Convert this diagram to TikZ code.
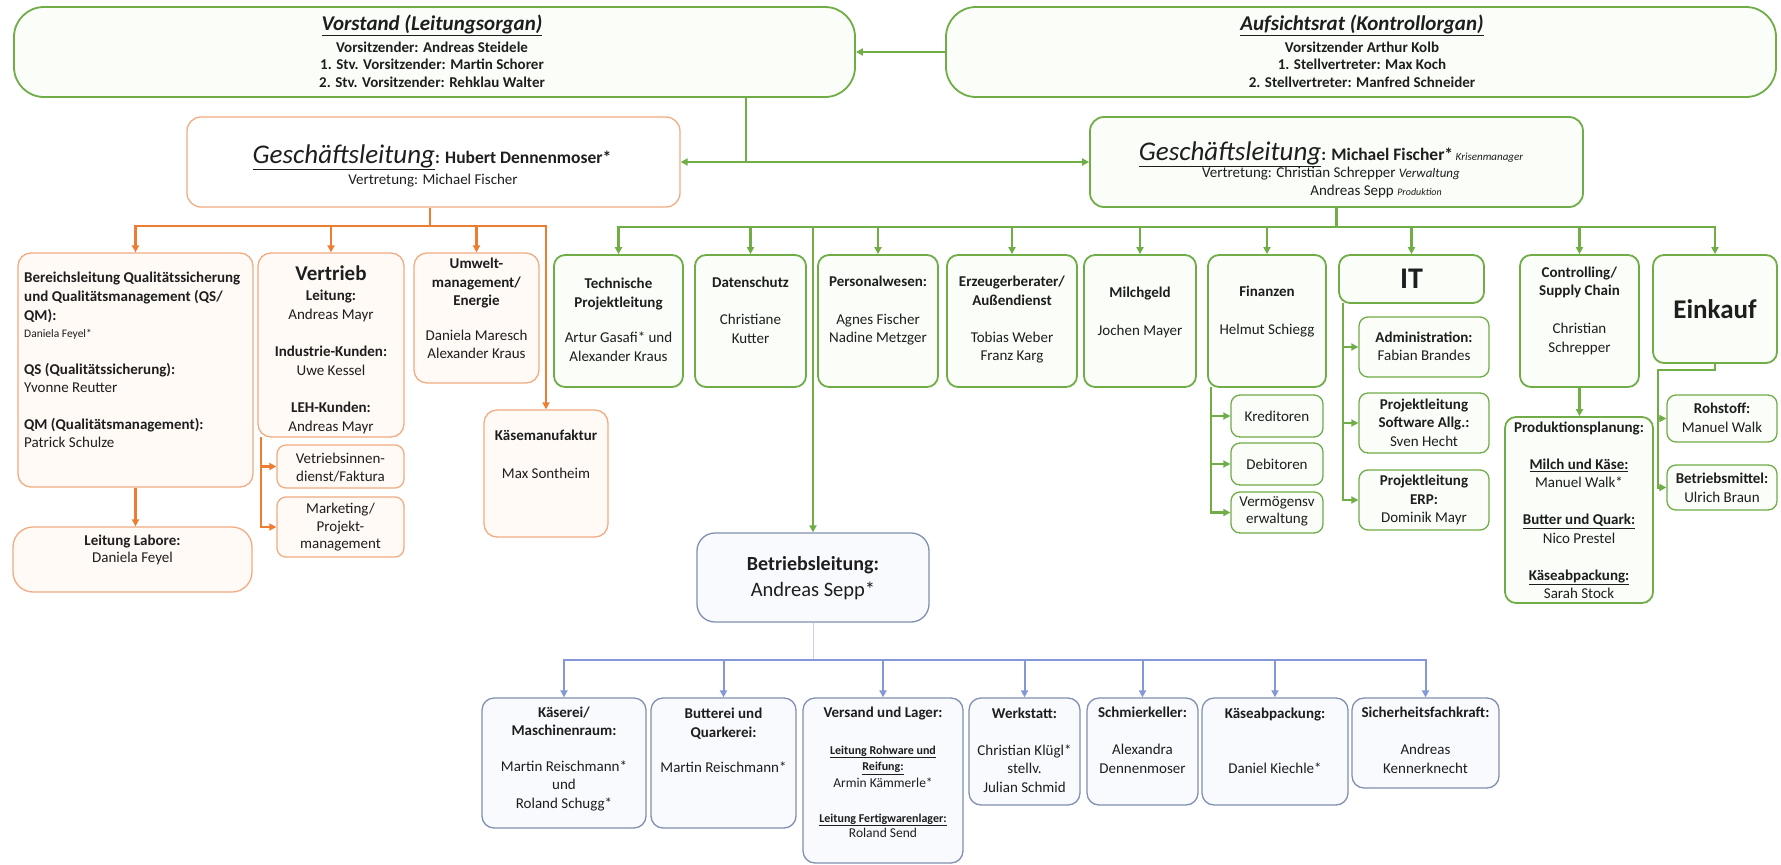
\documentclass[tikz,border=0pt]{standalone}
\usepackage{fontspec}
\setmainfont{Carlito}
\usetikzlibrary{arrows.meta}
\definecolor{gC}{HTML}{70AD47}
\definecolor{oC}{HTML}{ED7D31}
\definecolor{oB}{HTML}{F0AC82}
\definecolor{bC}{HTML}{8497D6}
\definecolor{bB}{HTML}{8190B0}
\definecolor{gF}{HTML}{FAFDF8}
\definecolor{oF}{HTML}{FFFAF6}
\definecolor{bF}{HTML}{F9FAFE}
\definecolor{tx}{HTML}{1E1E1E}
\newcommand\bx[6]{\node[#2, minimum width={#5-#3}, minimum height={#6-#4}] (#1) at ({(#3+#5)/2},{(#4+#6)/2}) {};}
\begin{document}
\begin{tikzpicture}[x=1pt,y=-1pt,
 gbox/.style={draw=gC, line width=1.8pt, rounded corners=11pt, fill=gF, inner sep=0pt},
 gsub/.style={draw=gC, line width=1.3pt, rounded corners=9pt, fill=gF, inner sep=0pt},
 obox/.style={draw=oB, line width=1.3pt, rounded corners=13pt, fill=oF, inner sep=0pt},
 bbox/.style={draw=bB, line width=1.3pt, rounded corners=12pt, fill=bF, inner sep=0pt},
 txt/.style={inner sep=0pt, align=center, text=tx, font=\fontsize{15}{18.5}\selectfont},
 gline/.style={draw=gC, line width=2.4pt},
 garr/.style={gline, -{Triangle[length=7pt,width=7pt]}},
 oline/.style={draw=oC, line width=2.2pt},
 oarr/.style={oline, -{Triangle[length=7pt,width=7pt]}},
 bline/.style={draw=bC, line width=2pt},
 barr/.style={bline, -{Triangle[length=7pt,width=7pt]}},
]
\useasboundingbox (0,0) rectangle (1781,865);
\fill[white] (0,0) rectangle (1781,865);

% ---------- boxes ----------
\bx{vor}{gbox, rounded corners=30pt}{14}{7}{855}{97}
\bx{auf}{gbox, rounded corners=30pt}{946}{7}{1776}{97}
\bx{gll}{obox, fill=white, rounded corners=14pt}{187}{117}{680}{207}
\bx{glr}{gbox, rounded corners=14pt}{1090}{117}{1583}{207}

\bx{bl}{obox}{18}{253}{253}{487}
\bx{ver}{obox}{258}{253}{404}{437}
\bx{umw}{obox}{414}{253}{539}{383}
\bx{kma}{obox}{484}{410}{608}{537}
\bx{lab}{obox, rounded corners=20pt}{13}{527}{252}{592}
\bx{vid}{obox, rounded corners=9pt}{277}{445}{404}{488}
\bx{mkt}{obox, rounded corners=9pt}{277}{497}{404}{557}

\bx{tpl}{gbox}{554}{255}{683}{387}
\bx{dsz}{gbox}{695}{255}{806}{387}
\bx{pw}{gbox}{818}{255}{938}{387}
\bx{ezb}{gbox}{947}{255}{1077}{387}
\bx{mg}{gbox}{1084}{255}{1196}{387}
\bx{fin}{gbox}{1208}{255}{1326}{387}
\bx{it}{gbox}{1339}{255}{1484}{303}
\bx{ctl}{gbox}{1520}{255}{1639}{387}
\bx{ek}{gbox}{1653}{255}{1777}{363}
\bx{kre}{gsub}{1231}{395}{1323}{437}
\bx{deb}{gsub}{1231}{443}{1323}{485}
\bx{vmv}{gsub}{1231}{492}{1323}{533}
\bx{adm}{gsub}{1359}{317}{1489}{377}
\bx{pls}{gsub}{1359}{393}{1489}{453}
\bx{ple}{gsub}{1359}{470}{1489}{530}
\bx{pp}{gbox}{1505}{417}{1653}{603}
\bx{roh}{gsub}{1667}{395}{1777}{442}
\bx{bm}{gsub}{1667}{465}{1777}{510}

\bx{bel}{bbox, rounded corners=18pt}{697}{533}{929}{622}
\bx{kas}{bbox}{482}{698}{646}{828}
\bx{but}{bbox}{651}{698}{796}{828}
\bx{vsl}{bbox}{803}{698}{963}{863}
\bx{wst}{bbox}{969}{698}{1080}{805}
\bx{smk}{bbox}{1087}{698}{1198}{805}
\bx{kap}{bbox}{1202}{698}{1348}{805}
\bx{sfk}{bbox}{1352}{698}{1499}{788}

% ---------- connectors ----------
\draw[garr] (auf.west) -- (vor.east);
\coordinate (j1) at (746,162);
\draw[gline] (vor.south -| j1) -- (j1);
\draw[garr] (j1) -- (gll.east);
\draw[garr] (j1) -- (glr.west);

\coordinate (oj) at (430,226);
\draw[oline] (gll.south -| oj) -- (oj);
\draw[oarr] (oj) -| (bl.north);
\draw[oarr] (oj) -| (kma.north);
\draw[oarr] (ver.north |- oj) -- (ver.north);
\draw[oarr] (umw.north |- oj) -- (umw.north);
\draw[oarr] (bl.south) -- (bl.south |- lab.north);
\coordinate (vj) at (261,437);
\draw[oarr] (vj) |- (mkt.west);
\draw[oarr] (vj |- vid.west) -- (vid.west);

\coordinate (gj) at (1336,227);
\draw[gline] (glr.south) -- (glr.south |- gj);
\draw[garr] (gj) -| (tpl.north);
\draw[garr] (gj) -| (ek.north);
\draw[garr] (dsz.north |- gj) -- (dsz.north);
\draw[garr] (bel.north |- gj) -- (bel.north);
\draw[garr] (pw.north |- gj) -- (pw.north);
\draw[garr] (ezb.north |- gj) -- (ezb.north);
\draw[garr] (mg.north |- gj) -- (mg.north);
\draw[garr] (fin.north |- gj) -- (fin.north);
\draw[garr] (it.north |- gj) -- (it.north);
\draw[garr] (ctl.north |- gj) -- (ctl.north);

\coordinate (fj) at (1211,387);
\draw[garr] (fj) |- (vmv.west);
\draw[garr] (fj |- kre.west) -- (kre.west);
\draw[garr] (fj |- deb.west) -- (deb.west);
\coordinate (ij) at (1343,303);
\draw[garr] (ij) |- (ple.west);
\draw[garr] (ij |- adm.west) -- (adm.west);
\draw[garr] (ij |- pls.west) -- (pls.west);
\draw[garr] (ctl.south) -- (ctl.south |- pp.north);
\coordinate (ej) at (1658,370);
\draw[garr] (ek.south) |- (ej) |- (bm.west);
\draw[garr] (ej |- roh.west) -- (roh.west);

\coordinate (bj) at (813,660);
\draw[draw=bC!45, line width=1pt] (bel.south) -- (bj);
\draw[barr] (bj) -| (kas.north);
\draw[barr] (bj) -| (sfk.north);
\draw[barr] (but.north |- bj) -- (but.north);
\draw[barr] (vsl.north |- bj) -- (vsl.north);
\draw[barr] (wst.north |- bj) -- (wst.north);
\draw[barr] (smk.north |- bj) -- (smk.north);
\draw[barr] (kap.north |- bj) -- (kap.north);

% ---------- texts ----------
\node[txt, font=\fontsize{21}{24}\selectfont\bfseries\itshape] (t-vor) at (432,25) {\underline{Vorstand (Leitungsorgan)}};
\node[txt, font=\fontsize{15}{17.5}\selectfont\bfseries] (s-vor) at (432,64.5) {Vorsitzender: Andreas Steidele\\1. Stv. Vorsitzender: Martin Schorer\\2. Stv. Vorsitzender: Rehklau Walter};
\node[txt, font=\fontsize{21}{24}\selectfont\bfseries\itshape] (t-auf) at (1362,25) {\underline{Aufsichtsrat (Kontrollorgan)}};
\node[txt, font=\fontsize{15}{17.5}\selectfont\bfseries] (s-auf) at (1362,64.5) {Vorsitzender Arthur Kolb\\1. Stellvertreter: Max Koch\\2. Stellvertreter: Manfred Schneider};

\node[txt, anchor=base] (t-gll) at (432,163) {{\fontsize{27}{30}\selectfont\itshape\underline{Geschäftsleitung}}{\fontsize{17.5}{20}\selectfont\bfseries: Hubert Dennenmoser*}};
\node[txt] (s-gll) at (433,181) {Vertretung: Michael Fischer};
\node[txt, anchor=base] (t-glr) at (1331,160) {{\fontsize{27}{30}\selectfont\itshape\underline{Geschäftsleitung}}{\fontsize{17.5}{20}\selectfont\bfseries: Michael Fischer*}{\fontsize{11}{13}\selectfont\itshape\ Krisenmanager}};
\node[txt] (s-glr) at (1331,174) {Vertretung: Christian Schrepper {\fontsize{13}{15}\selectfont\itshape Verwaltung}};
\node[txt] (s2-glr) at (1376,191) {Andreas Sepp {\fontsize{10}{12}\selectfont\itshape Produktion}};

\node[txt, anchor=west, align=left, font=\fontsize{15}{19}\selectfont] (t-bl1) at (24,297) {\textbf{Bereichsleitung Qualitätssicherung}\\\textbf{und Qualitätsmanagement (QS/}\\\textbf{QM):}};
\node[txt, anchor=west, font=\fontsize{11.5}{13}\selectfont] (t-bl2) at (24,334) {Daniela Feyel*};
\node[txt, anchor=west, align=left] (t-bl3) at (24,378) {\textbf{QS (Qualitätssicherung):}\\Yvonne Reutter};
\node[txt, anchor=west, align=left] (t-bl4) at (24,433) {\textbf{QM (Qualitätsmanagement):}\\Patrick Schulze};
\node[txt, font=\fontsize{21}{24}\selectfont\bfseries] (t-ver1) at (331,273) {Vertrieb};
\node[txt] (t-ver2) at (331,362) {\textbf{Leitung:}\\Andreas Mayr\\[19pt]\textbf{Industrie-Kunden:}\\Uwe Kessel\\[19pt]\textbf{LEH-Kunden:}\\Andreas Mayr};
\node[txt] (t-umw) at (476.5,308.5) {\textbf{Umwelt-}\\\textbf{management/}\\\textbf{Energie}\\[16pt]Daniela Maresch\\Alexander Kraus};
\node[txt] (t-kma) at (546,454) {\textbf{Käsemanufaktur}\\[19.5pt]Max Sontheim};
\node[txt, font=\fontsize{15}{17}\selectfont] (t-lab) at (132.5,550) {\textbf{Leitung Labore:}\\Daniela Feyel};
\node[txt] (t-vid) at (340.5,467.5) {Vetriebsinnen-\\dienst/Faktura};
\node[txt, font=\fontsize{15}{17.5}\selectfont] (t-mkt) at (340.5,527.5) {Marketing/\\Projekt-\\management};

\node[txt] (t-tpl) at (618.5,320) {\textbf{Technische}\\\textbf{Projektleitung}\\[17pt]Artur Gasafi* und\\Alexander Kraus};
\node[txt] (t-dsz) at (750.5,310.5) {\textbf{Datenschutz}\\[18.5pt]Christiane\\Kutter};
\node[txt] (t-pw) at (878,311) {\textbf{Personalwesen:}\\[19pt]Agnes Fischer\\Nadine Metzger};
\node[txt] (t-ezb) at (1012,320) {\textbf{Erzeugerberater/}\\\textbf{Außendienst}\\[18.5pt]Tobias Weber\\Franz Karg};
\node[txt] (t-mg) at (1140,312) {\textbf{Milchgeld}\\[19.5pt]Jochen Mayer};
\node[txt] (t-fin) at (1267,312) {\textbf{Finanzen}\\[19.5pt]Helmut Schiegg};
\node[txt, font=\fontsize{30}{32}\selectfont\bfseries] (t-it) at (1411.5,279) {IT};
\node[txt] (t-ctl) at (1579.5,310.5) {\textbf{Controlling/}\\\textbf{Supply Chain}\\[19.5pt]Christian\\Schrepper};
\node[txt, font=\fontsize{27}{30}\selectfont\bfseries] (t-ek) at (1715,309) {Einkauf};
\node[txt] (t-kre) at (1277,416) {Kreditoren};
\node[txt] (t-deb) at (1277,464) {Debitoren};
\node[txt, font=\fontsize{15}{17}\selectfont] (t-vmv) at (1277,511.5) {Vermögensv\\erwaltung};
\node[txt, font=\fontsize{15}{17.5}\selectfont] (t-adm) at (1424,346.5) {\textbf{Administration:}\\Fabian Brandes};
\node[txt] (t-pls) at (1424,422.5) {\textbf{Projektleitung}\\\textbf{Software Allg.:}\\Sven Hecht};
\node[txt] (t-ple) at (1424,500) {\textbf{Projektleitung}\\\textbf{ERP:}\\Dominik Mayr};
\node[txt] (t-pp) at (1579,510.5) {\textbf{Produktionsplanung:}\\[18.5pt]\textbf{\underline{Milch und Käse:}}\\Manuel Walk*\\[18.5pt]\textbf{\underline{Butter und Quark:}}\\Nico Prestel\\[18.5pt]\textbf{\underline{Käseabpackung:}}\\Sarah Stock};
\node[txt, font=\fontsize{15}{19}\selectfont] (t-roh) at (1722,417.5) {\textbf{Rohstoff:}\\Manuel Walk};
\node[txt, font=\fontsize{15}{19}\selectfont] (t-bm) at (1722,487.5) {\textbf{Betriebsmittel:}\\Ulrich Braun};

\node[txt, font=\fontsize{20}{23}\selectfont\bfseries] (t-bel1) at (813,565) {Betriebsleitung:};
\node[txt, font=\fontsize{20.5}{23}\selectfont] (t-bel2) at (813,591) {Andreas Sepp*};
\node[txt] (t-kas) at (564,759) {\textbf{Käserei/}\\\textbf{Maschinenraum:}\\[17pt]Martin Reischmann*\\und\\Roland Schugg*};
\node[txt] (t-but) at (723.5,740.5) {\textbf{Butterei und}\\\textbf{Quarkerei:}\\[17pt]Martin Reischmann*};
\node[txt] (t-vsl1) at (883,713) {\textbf{Versand und Lager:}};
\node[txt, font=\fontsize{12}{16.5}\selectfont] (t-vsl2) at (883,766.5) {\textbf{\underline{Leitung Rohware und}}\\\textbf{\underline{Reifung:}}\\{\fontsize{13.5}{16.5}\selectfont Armin Kämmerle*}};
\node[txt, font=\fontsize{12}{15}\selectfont] (t-vsl3) at (883,825.5) {\textbf{\underline{Leitung Fertigwarenlager:}}\\{\fontsize{13.5}{15}\selectfont Roland Send}};
\node[txt] (t-wst) at (1024.5,750) {\textbf{Werkstatt:}\\[18.5pt]Christian Klügl*\\stellv.\\Julian Schmid};
\node[txt] (t-smk) at (1142.5,740.5) {\textbf{Schmierkeller:}\\[18.5pt]Alexandra\\Dennenmoser};
\node[txt] (t-kap) at (1275,740.5) {\textbf{Käseabpackung:}\\[36.5pt]Daniel Kiechle*};
\node[txt] (t-sfk) at (1425.5,740.5) {\textbf{Sicherheitsfachkraft:}\\[18.5pt]Andreas\\Kennerknecht};
\end{tikzpicture}
\end{document}
